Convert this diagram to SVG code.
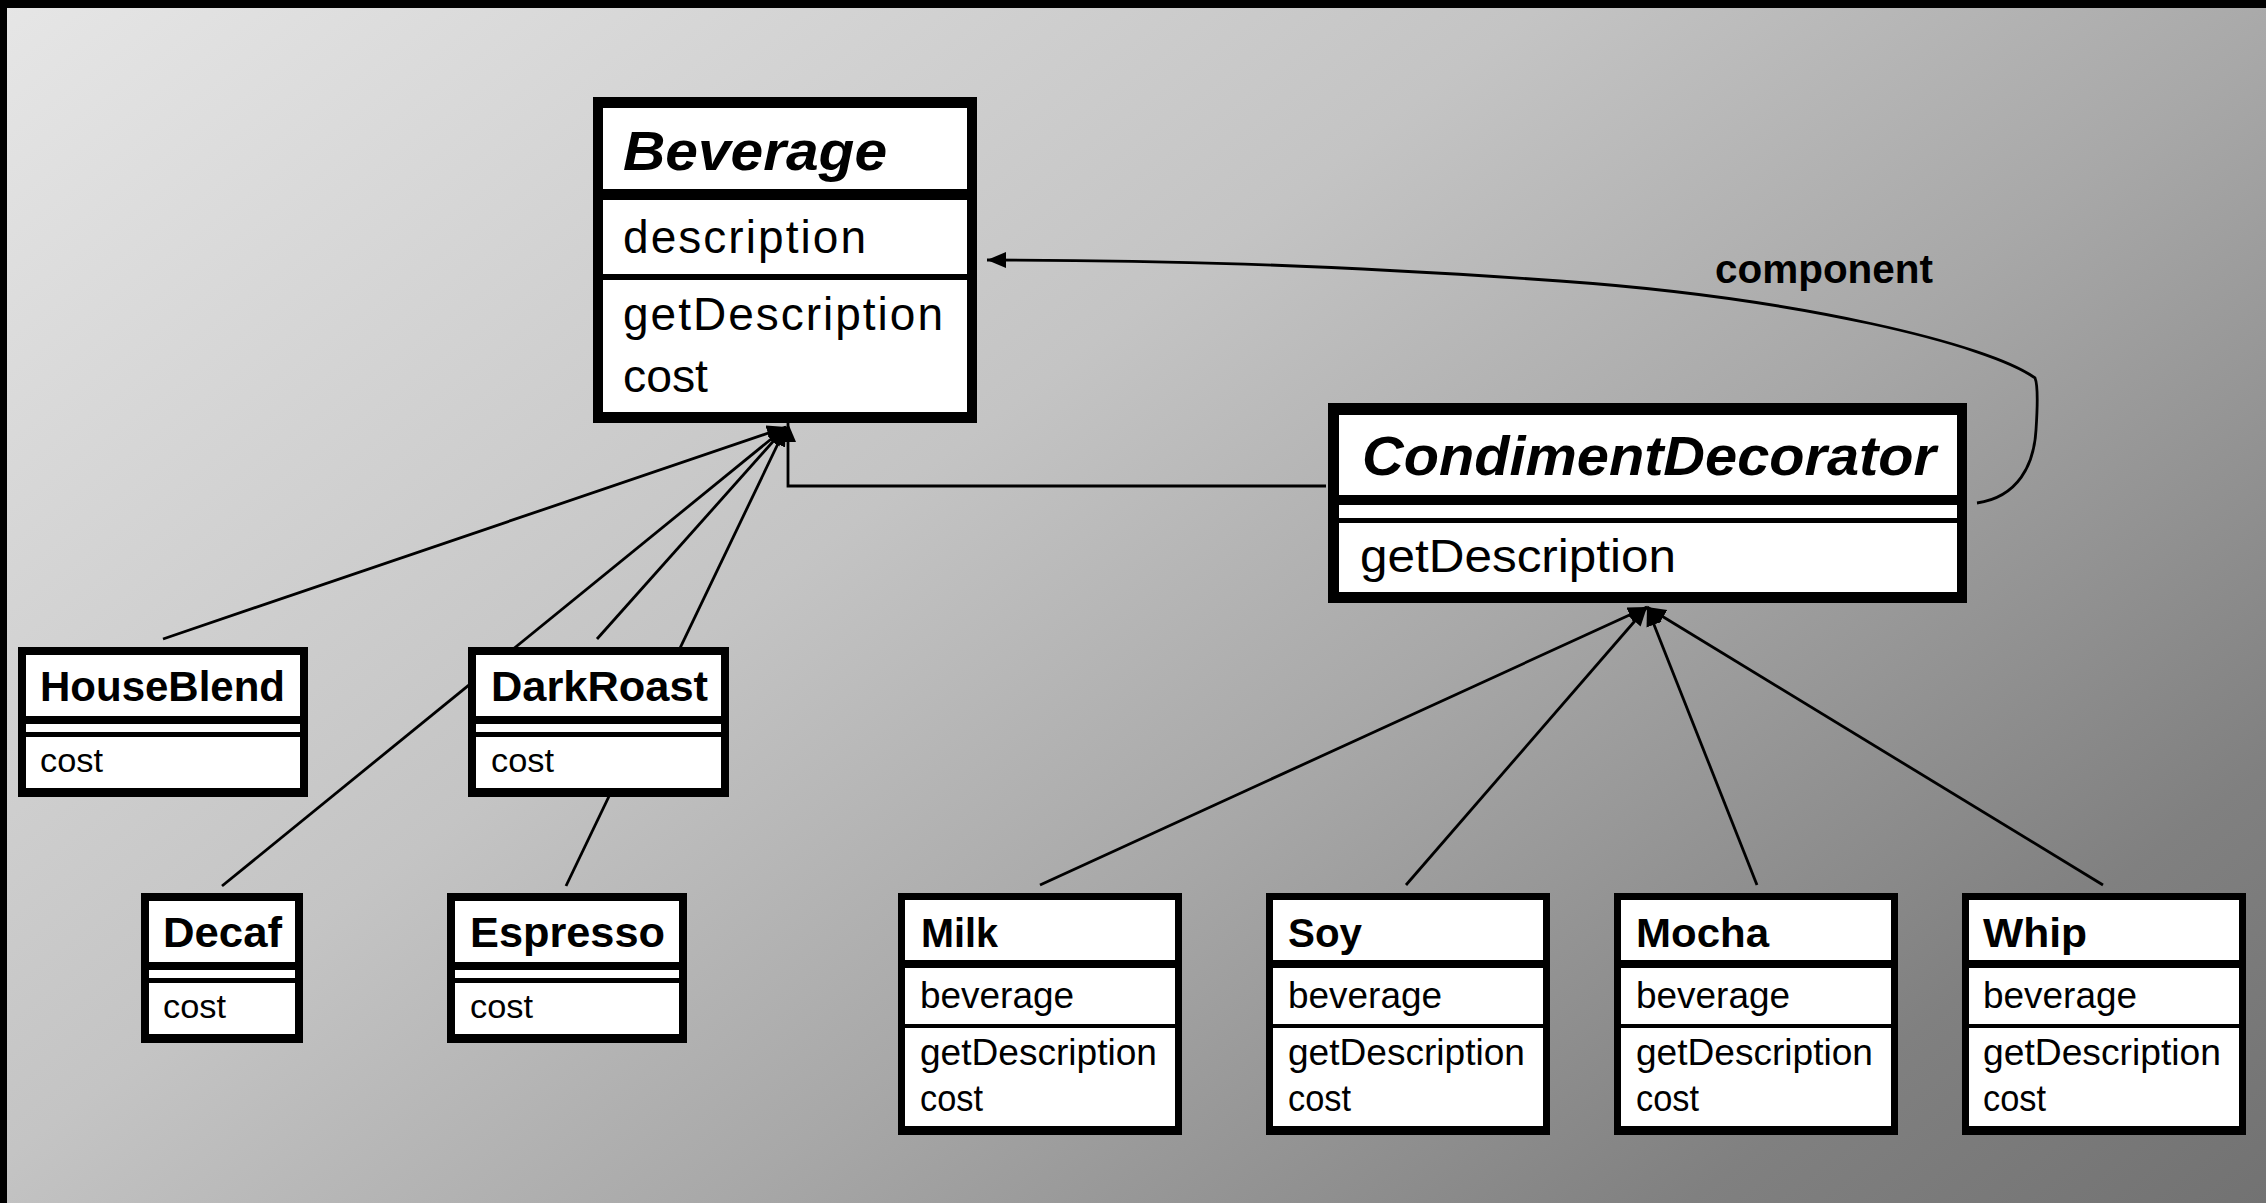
<svg xmlns="http://www.w3.org/2000/svg" width="2266" height="1203" viewBox="0 0 2266 1203">
  <defs>
    <linearGradient id="bg" gradientUnits="userSpaceOnUse" x1="0" y1="0" x2="1393" y2="1858">
      <stop offset="0" stop-color="#e6e6e6"/>
      <stop offset="0.4" stop-color="#c4c4c4"/>
      <stop offset="0.6" stop-color="#a8a8a8"/>
      <stop offset="0.85" stop-color="#808080"/>
      <stop offset="1" stop-color="#727272"/>
    </linearGradient>
    <marker id="tri" markerUnits="userSpaceOnUse" markerWidth="20" markerHeight="18" refX="19" refY="8" orient="auto">
      <path d="M0,0 L19,8 L0,16 z" fill="#000"/>
    </marker>
    <style>
      .box { fill: #000; }
      .cmp { fill: #fff; }
      .nm { font-family: "Liberation Sans", Arial, sans-serif; font-weight: bold; fill: #000; }
      .abs { font-style: italic; }
      .tx { font-family: "Liberation Sans", Arial, sans-serif; fill: #000; }
      .edge { fill: none; stroke: #000; stroke-width: 2.8; }
      .arrow { marker-end: url(#tri); }
      .lbl { font-family: "Liberation Sans", Arial, sans-serif; font-weight: bold; font-size: 40px; fill: #000; }
    </style>
  </defs>

  <!-- background and frame -->
  <rect x="0" y="0" width="2266" height="1203" fill="url(#bg)"/>
  <rect x="0" y="0" width="2266" height="8" fill="#000"/>
  <rect x="0" y="0" width="7" height="1203" fill="#000"/>

  <!-- connectors (drawn first so boxes sit on top) -->
  <g id="connectors">
    <path class="edge arrow" d="M163,639 L786,427"/>
    <path class="edge arrow" d="M222,886 L786,427"/>
    <path class="edge arrow" d="M597,639 L786,427"/>
    <path class="edge arrow" d="M566,886 L786,427"/>
    <path class="edge arrow" d="M1326,486 L788,486 L788,423"/>
    <path class="edge arrow" d="M1040,885 L1647,607"/>
    <path class="edge arrow" d="M1406,885 L1647,607"/>
    <path class="edge arrow" d="M1757,885 L1647,607"/>
    <path class="edge arrow" d="M2103,885 L1647,607"/>
    <path class="edge arrow" d="M1977,503 C2018,497 2034,465 2036,430 C2038,400 2038,385 2035,378 C1990,345 1800,298 1560,281 S1150,260 987,260"/>
    <text class="lbl" x="1715" y="283" textLength="218" lengthAdjust="spacingAndGlyphs">component</text>
  </g>

  <!-- Beverage -->
  <g id="beverage">
    <rect class="box" x="593" y="97" width="384" height="326"/>
    <rect class="cmp" x="603" y="108" width="364" height="81"/>
    <rect class="cmp" x="603" y="200" width="364" height="74"/>
    <rect class="cmp" x="603" y="280" width="364" height="132"/>
    <text class="nm abs" x="623" y="170" font-size="56" textLength="264" lengthAdjust="spacingAndGlyphs">Beverage</text>
    <text class="tx" x="623" y="253" font-size="46" textLength="243" lengthAdjust="spacing">description</text>
    <text class="tx" x="623" y="330" font-size="46" textLength="320" lengthAdjust="spacing">getDescription</text>
    <text class="tx" x="623" y="392" font-size="46" textLength="85" lengthAdjust="spacingAndGlyphs">cost</text>
  </g>

  <!-- CondimentDecorator -->
  <g id="condiment-decorator">
    <rect class="box" x="1328" y="403" width="639" height="200"/>
    <rect class="cmp" x="1339" y="415" width="618" height="80"/>
    <rect class="cmp" x="1339" y="505" width="618" height="13"/>
    <rect class="cmp" x="1339" y="523" width="618" height="69"/>
    <text class="nm abs" x="1362" y="475" font-size="56" textLength="574" lengthAdjust="spacingAndGlyphs">CondimentDecorator</text>
    <text class="tx" x="1360" y="572" font-size="46" textLength="316" lengthAdjust="spacingAndGlyphs">getDescription</text>
  </g>

  <!-- concrete beverages -->
  <g id="house-blend">
    <rect class="box" x="18" y="647" width="290" height="150"/>
    <rect class="cmp" x="26" y="655" width="274" height="61"/>
    <rect class="cmp" x="26" y="724" width="274" height="8"/>
    <rect class="cmp" x="26" y="737" width="274" height="51"/>
    <text class="nm" x="40" y="701" font-size="42" textLength="245" lengthAdjust="spacingAndGlyphs">HouseBlend</text>
    <text class="tx" x="40" y="772" font-size="34" textLength="63" lengthAdjust="spacingAndGlyphs">cost</text>
  </g>

  <g id="dark-roast">
    <rect class="box" x="468" y="647" width="261" height="150"/>
    <rect class="cmp" x="476" y="655" width="245" height="61"/>
    <rect class="cmp" x="476" y="724" width="245" height="8"/>
    <rect class="cmp" x="476" y="737" width="245" height="51"/>
    <text class="nm" x="491" y="701" font-size="42" textLength="217" lengthAdjust="spacingAndGlyphs">DarkRoast</text>
    <text class="tx" x="491" y="772" font-size="34" textLength="63" lengthAdjust="spacingAndGlyphs">cost</text>
  </g>

  <g id="decaf">
    <rect class="box" x="141" y="893" width="162" height="150"/>
    <rect class="cmp" x="149" y="901" width="146" height="61"/>
    <rect class="cmp" x="149" y="970" width="146" height="8"/>
    <rect class="cmp" x="149" y="983" width="146" height="51"/>
    <text class="nm" x="163" y="947" font-size="42" textLength="119" lengthAdjust="spacingAndGlyphs">Decaf</text>
    <text class="tx" x="163" y="1018" font-size="34" textLength="63" lengthAdjust="spacingAndGlyphs">cost</text>
  </g>

  <g id="espresso">
    <rect class="box" x="447" y="893" width="240" height="150"/>
    <rect class="cmp" x="455" y="901" width="224" height="61"/>
    <rect class="cmp" x="455" y="970" width="224" height="8"/>
    <rect class="cmp" x="455" y="983" width="224" height="51"/>
    <text class="nm" x="470" y="947" font-size="42" textLength="195" lengthAdjust="spacingAndGlyphs">Espresso</text>
    <text class="tx" x="470" y="1018" font-size="34" textLength="63" lengthAdjust="spacingAndGlyphs">cost</text>
  </g>

  <!-- condiments -->
  <g id="milk">
    <rect class="box" x="898" y="893" width="284" height="242"/>
    <rect class="cmp" x="905" y="900" width="270" height="60"/>
    <rect class="cmp" x="905" y="968" width="270" height="56"/>
    <rect class="cmp" x="905" y="1028" width="270" height="98"/>
    <text class="nm" x="921" y="947" font-size="41" textLength="77" lengthAdjust="spacingAndGlyphs">Milk</text>
    <text class="tx" x="920" y="1008" font-size="37" textLength="154" lengthAdjust="spacingAndGlyphs">beverage</text>
    <text class="tx" x="920" y="1065" font-size="37" textLength="237" lengthAdjust="spacingAndGlyphs">getDescription</text>
    <text class="tx" x="920" y="1111" font-size="37" textLength="63" lengthAdjust="spacingAndGlyphs">cost</text>
  </g>

  <g id="soy">
    <rect class="box" x="1266" y="893" width="284" height="242"/>
    <rect class="cmp" x="1273" y="900" width="270" height="60"/>
    <rect class="cmp" x="1273" y="968" width="270" height="56"/>
    <rect class="cmp" x="1273" y="1028" width="270" height="98"/>
    <text class="nm" x="1288" y="947" font-size="41" textLength="74" lengthAdjust="spacingAndGlyphs">Soy</text>
    <text class="tx" x="1288" y="1008" font-size="37" textLength="154" lengthAdjust="spacingAndGlyphs">beverage</text>
    <text class="tx" x="1288" y="1065" font-size="37" textLength="237" lengthAdjust="spacingAndGlyphs">getDescription</text>
    <text class="tx" x="1288" y="1111" font-size="37" textLength="63" lengthAdjust="spacingAndGlyphs">cost</text>
  </g>

  <g id="mocha">
    <rect class="box" x="1614" y="893" width="284" height="242"/>
    <rect class="cmp" x="1621" y="900" width="270" height="60"/>
    <rect class="cmp" x="1621" y="968" width="270" height="56"/>
    <rect class="cmp" x="1621" y="1028" width="270" height="98"/>
    <text class="nm" x="1636" y="947" font-size="41" textLength="133" lengthAdjust="spacingAndGlyphs">Mocha</text>
    <text class="tx" x="1636" y="1008" font-size="37" textLength="154" lengthAdjust="spacingAndGlyphs">beverage</text>
    <text class="tx" x="1636" y="1065" font-size="37" textLength="237" lengthAdjust="spacingAndGlyphs">getDescription</text>
    <text class="tx" x="1636" y="1111" font-size="37" textLength="63" lengthAdjust="spacingAndGlyphs">cost</text>
  </g>

  <g id="whip">
    <rect class="box" x="1962" y="893" width="284" height="242"/>
    <rect class="cmp" x="1969" y="900" width="270" height="60"/>
    <rect class="cmp" x="1969" y="968" width="270" height="56"/>
    <rect class="cmp" x="1969" y="1028" width="270" height="98"/>
    <text class="nm" x="1983" y="947" font-size="41" textLength="104" lengthAdjust="spacingAndGlyphs">Whip</text>
    <text class="tx" x="1983" y="1008" font-size="37" textLength="154" lengthAdjust="spacingAndGlyphs">beverage</text>
    <text class="tx" x="1983" y="1065" font-size="37" textLength="238" lengthAdjust="spacingAndGlyphs">getDescription</text>
    <text class="tx" x="1983" y="1111" font-size="37" textLength="63" lengthAdjust="spacingAndGlyphs">cost</text>
  </g>
</svg>
